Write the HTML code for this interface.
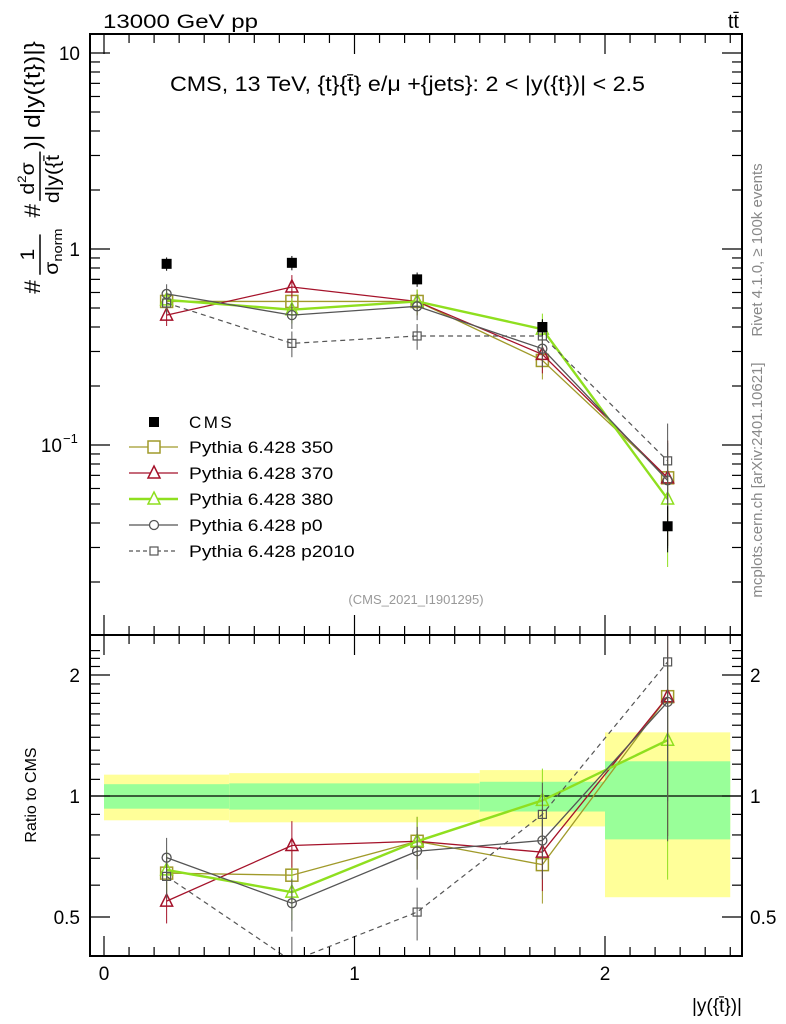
<!DOCTYPE html>
<html><head><meta charset="utf-8"><style>
body{margin:0;background:#fff;}
svg{display:block;font-family:"Liberation Sans",sans-serif;}
</style></head><body>
<svg id="c" width="786" height="1024" viewBox="0 0 786 1024">
<text x="103" y="28" font-size="19" textLength="155" lengthAdjust="spacingAndGlyphs">13000 GeV pp</text>
<text x="739" y="28" font-size="20" text-anchor="end">tt̄</text>
<text x="170" y="91" font-size="21" textLength="475" lengthAdjust="spacingAndGlyphs">CMS, 13 TeV, {t}{t̄} e/μ +{jets}: 2 &lt; |y({t})| &lt; 2.5</text>
<text x="416" y="604" font-size="13" fill="#999" text-anchor="middle">(CMS_2021_I1901295)</text>
<text transform="translate(762,250) rotate(-90)" font-size="15" fill="#888" text-anchor="middle">Rivet 4.1.0, ≥ 100k events</text>
<text transform="translate(762,480) rotate(-90)" font-size="15" fill="#888" text-anchor="middle">mcplots.cern.ch [arXiv:2401.10621]</text>
<g transform="translate(40,165) rotate(-90) scale(1.12,1)">
<text x="-115" y="0" font-size="22">#</text>
<text x="-80" y="-6" font-size="19" text-anchor="middle">1</text>
<line x1="-98" y1="0" x2="-62" y2="0" stroke="#000" stroke-width="1.5"/>
<text x="-98" y="18" font-size="19">σ<tspan font-size="13" dy="4">norm</tspan></text>
<text x="-47" y="0" font-size="22">#</text>
<text x="-12" y="-6" font-size="19" text-anchor="middle">d<tspan font-size="12" dy="-8">2</tspan><tspan dy="8">σ</tspan></text>
<line x1="-32" y1="0" x2="12" y2="0" stroke="#000" stroke-width="1.5"/>
<text x="-34" y="19" font-size="19">d|y({t̄</text>
<text x="14" y="0" font-size="22">)| d|y({t})|}</text>
</g>
<text transform="translate(36,795) rotate(-90)" font-size="16" text-anchor="middle">Ratio to CMS</text>
<text x="742" y="1012" font-size="19" text-anchor="end">|y({t̄})|</text>
<g id="top"></g><g id="bot"></g>
</svg>
<script>
const xCenters=[0.25,0.75,1.25,1.75,2.25];
const binEdges=[0,0.5,1,1.5,2,2.5];
const cmsVals=[0.84,0.85,0.70,0.40,0.0385];
const statRel=[0.07,0.075,0.075,0.085,0.22];
const totRel=[0.13,0.14,0.14,0.16,0.44];
const v350=[0.54,0.54,0.54,0.27,0.068];
const v370=[0.46,0.64,0.54,0.29,0.068];
const v380=[0.55,0.49,0.54,0.39,0.053];
const vp0=[0.59,0.46,0.51,0.31,0.066];
const vp2010=[0.53,0.33,0.36,0.36,0.083];
const mcErr=[0.12,0.15,0.15,0.2,0.55];
const series=[
 {name:'Pythia 6.428 350',v:v350,c:'#a09a2a',m:'sq',w:1.3,dash:''},
 {name:'Pythia 6.428 370',v:v370,c:'#a5122a',m:'tri',w:1.3,dash:''},
 {name:'Pythia 6.428 380',v:v380,c:'#8fdf1f',m:'tri',w:2.4,dash:''},
 {name:'Pythia 6.428 p0',v:vp0,c:'#555',m:'circ',w:1.3,dash:''},
 {name:'Pythia 6.428 p2010',v:vp2010,c:'#555',m:'sqs',w:1.2,dash:'5,4'}];
const L=90,R=742,T1=34,B1=635,B2=956;
const X=v=>104+(v)*250.5;
const Y1=v=>249-Math.log10(v)*196;
const Y2=v=>796-Math.log2(v)*121;
const NS='http://www.w3.org/2000/svg';
function mk(p,t,a){const e=document.createElementNS(NS,t);for(const k in a)e.setAttribute(k,a[k]);p.appendChild(e);return e;}
const topG=document.getElementById('top'),botG=document.getElementById('bot');
for(let i=0;i<5;i++){
 const y=mk(botG,'rect',{x:X(binEdges[i]),width:X(binEdges[i+1])-X(binEdges[i]),y:Y2(1+totRel[i]),height:Y2(1-totRel[i])-Y2(1+totRel[i]),fill:'#ffff99'});
 
 
 const g=mk(botG,'rect',{x:X(binEdges[i]),width:X(binEdges[i+1])-X(binEdges[i]),y:Y2(1+statRel[i]),height:Y2(1-statRel[i])-Y2(1+statRel[i]),fill:'#99ff99'});
 
 
}
mk(botG,'line',{x1:L,x2:R,y1:Y2(1),y2:Y2(1),stroke:'#000','stroke-width':1.3});
function marker(p,m,x,y,c){
 if(m==='sq')return mk(p,'rect',{x:x-6,y:y-6,width:12,height:12,fill:'none',stroke:c,'stroke-width':1.5});
 if(m==='sqs')return mk(p,'rect',{x:x-4,y:y-4,width:8,height:8,fill:'none',stroke:c,'stroke-width':1.2});
 if(m==='tri')return mk(p,'path',{d:`M${x},${y-7}L${x+6},${y+5}L${x-6},${y+5}Z`,fill:'none',stroke:c,'stroke-width':1.5});
 return mk(p,'circle',{cx:x,cy:y,r:4.5,fill:'none',stroke:c,'stroke-width':1.3});
}
const svgEl=document.getElementById('c');
const clip=mk(svgEl,'clipPath',{id:'cb'});mk(clip,'rect',{x:L,y:B1,width:R-L,height:B2-B1});
const clipT=mk(svgEl,'clipPath',{id:'ct'});mk(clipT,'rect',{x:L,y:T1,width:R-L,height:B1-T1});
topG.setAttribute('clip-path','url(#ct)');
const botS=mk(botG,'g',{'clip-path':'url(#cb)'});
series.forEach((s,si)=>{
 const ratio=s.v.map((v,i)=>v/cmsVals[i]);
 [[topG,s.v,Y1],[botS,ratio,Y2]].forEach(([p,vals,Yf])=>{
  const g=mk(p,'g',{});
  
  
  vals.forEach((v,i)=>{const e=mcErr[i]*v;mk(g,'line',{x1:X(xCenters[i]),x2:X(xCenters[i]),y1:Yf(v+e),y2:Yf(Math.max(v-e,v*0.2)),stroke:s.c,'stroke-width':1});});
  mk(g,'polyline',{points:vals.map((v,i)=>X(xCenters[i])+','+Yf(v)).join(' '),fill:'none',stroke:s.c,'stroke-width':s.w,'stroke-dasharray':s.dash});
  vals.forEach((v,i)=>{const m=marker(g,s.m,X(xCenters[i]),Yf(v),s.c);});
 });
});
cmsVals.forEach((v,i)=>{
 const r=mk(topG,'rect',{x:X(xCenters[i])-5,y:Y1(v)-5,width:10,height:10,fill:'#000'});
 
 
 mk(topG,'line',{x1:X(xCenters[i]),x2:X(xCenters[i]),y1:Y1(v*(1+totRel[i]*0.6)),y2:Y1(v*(1-totRel[i]*0.6)),stroke:'#000','stroke-width':1});
});
const ax=mk(svgEl,'g',{});


mk(ax,'rect',{x:L,y:T1,width:R-L,height:B1-T1,fill:'none',stroke:'#000','stroke-width':2});
mk(ax,'rect',{x:L,y:B1,width:R-L,height:B2-B1,fill:'none',stroke:'#000','stroke-width':2});
for(let t=0;t<=2.5001;t+=0.1){const x=X(t);const big=Math.abs(t-Math.round(t))<1e-6;const h=big?20:9;
 [[T1,1],[B1,-1],[B1,1],[B2,-1]].forEach(([y,d])=>mk(ax,'line',{x1:x,x2:x,y1:y,y2:y+d*h,stroke:'#000','stroke-width':1.2}));}
const xLabels=['0','1','2'];
xLabels.forEach((l,i)=>{const t=mk(ax,'text',{x:X(i),y:980,'font-size':19,'text-anchor':'middle'});t.textContent=l;});
for(let d=-2;d<=1;d++)for(let k=1;k<10;k++){const v=k*Math.pow(10,d);const y=Y1(v);if(y<T1||y>B1)continue;const h=k===1?20:10;
 mk(ax,'line',{x1:L,x2:L+h,y1:y,y2:y,stroke:'#000','stroke-width':1.2});mk(ax,'line',{x1:R,x2:R-h,y1:y,y2:y,stroke:'#000','stroke-width':1.2});}
const yLabels=[['10',10],['1',1]];
yLabels.forEach(([l,v])=>{const t=mk(ax,'text',{x:80,y:Y1(v)+7,'font-size':19,'text-anchor':'end'});t.textContent=l;});
const t10=mk(ax,'text',{x:62,y:Y1(0.1)+7,'font-size':19,'text-anchor':'end'});t10.textContent='10';
const t10e=mk(ax,'text',{x:63,y:Y1(0.1)-2,'font-size':13});t10e.textContent='−1';
for(let v=0.4;v<=2.31;v+=0.1){const y=Y2(v);if(y<B1||y>B2)continue;const big=[0.5,1,2].some(b=>Math.abs(b-v)<1e-6);const h=big?20:10;
 mk(ax,'line',{x1:L,x2:L+h,y1:y,y2:y,stroke:'#000','stroke-width':1.2});mk(ax,'line',{x1:R,x2:R-h,y1:y,y2:y,stroke:'#000','stroke-width':1.2});}
const rLabels=[['2',2],['1',1],['0.5',0.5]];
rLabels.forEach(([l,v])=>{const a=mk(ax,'text',{x:80,y:Y2(v)+7,'font-size':19,'text-anchor':'end'});a.textContent=l;
 const b=mk(ax,'text',{x:750,y:Y2(v)+7,'font-size':19});b.textContent=l;});
const lg=mk(svgEl,'g',{});


mk(lg,'rect',{x:149,y:417,width:10,height:10,fill:'#000'});
const lt=mk(lg,'text',{x:189,y:428,'font-size':17});lt.textContent='CMS';
lt.setAttribute('textLength',lt.getComputedTextLength()*1.13);
series.forEach((s,i)=>{const y=447+i*26;
 mk(lg,'line',{x1:129,x2:178,y1:y,y2:y,stroke:s.c,'stroke-width':s.w,'stroke-dasharray':s.dash?'4,3':''});
 const m=marker(lg,s.m,154,y,s.c);m.setAttribute('fill','#fff');
 const t=mk(lg,'text',{x:189,y:y+6,'font-size':17,lengthAdjust:'spacingAndGlyphs'});t.textContent=s.name;
 t.setAttribute('textLength',t.getComputedTextLength()*1.13);
 
 });
</script>
</body></html>
